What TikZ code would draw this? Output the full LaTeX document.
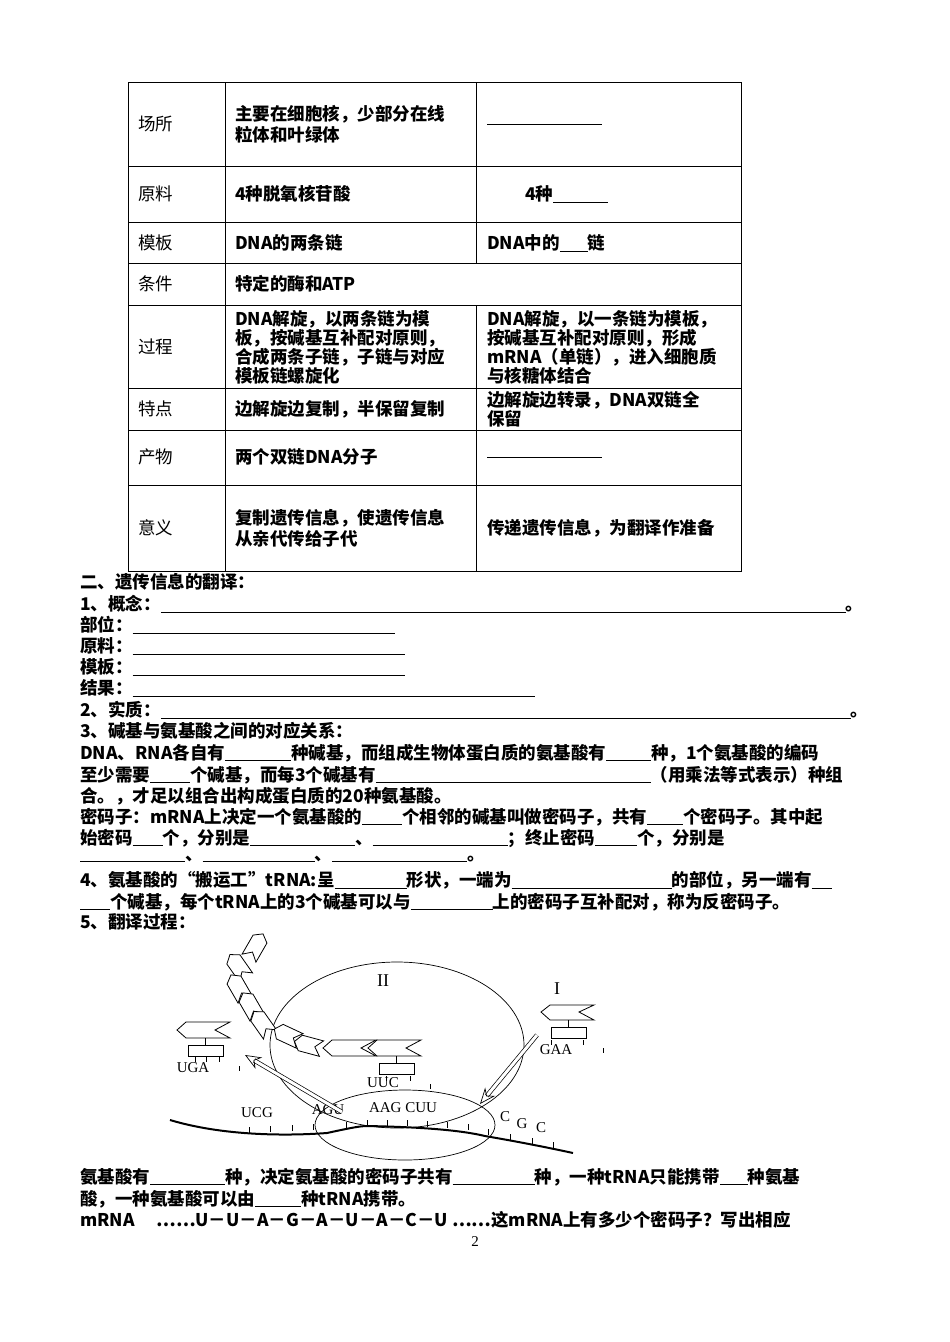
\documentclass[tikz,border=0pt]{standalone}
\usepackage{fontspec}
\setmainfont{Liberation Serif}
\newfontfamily\cjk{Noto Sans CJK SC}
\usetikzlibrary{arrows.meta}
\newcommand{\bl}[1]{\underline{\makebox[#1pt]{}}}
\begin{document}
\begin{tikzpicture}[x=1pt,y=-1pt,
 t/.style={anchor=west,inner sep=0pt,font=\cjk\fontsize{17.5}{21}\selectfont},
 tb/.style={t,font=\cjk\bfseries\fontsize{17.5}{21}\selectfont,align=left},
 tc/.style={t,font=\cjk\bfseries\fontsize{17.5}{19}\selectfont,align=left},
 lab/.style={inner sep=0pt,font=\fontsize{15}{15}\selectfont},
 chev/.style={draw,line width=0.8pt,fill=white},
 arr/.style={double,double distance=3pt,line width=0.7pt,-{Stealth[open,length=16pt,width=13pt]}}]
\useasboundingbox (0,0) rectangle (950,1342);
% table
\draw[line width=0.6pt] (128,82) rectangle (741,571);
\foreach \y in {166,222,263,305,388,430,485} \draw[line width=0.6pt] (128,\y)--(741,\y);
\draw[line width=0.6pt] (225,82)--(225,571);
\draw[line width=0.6pt] (476,82)--(476,263) (476,305)--(476,571);
\node[t] (l1) at (138,124) {场所};
\node[t] (l2) at (138,194) {原料};
\node[t] (l3) at (138,243) {模板};
\node[t] (l4) at (138,284) {条件};
\node[t] (l5) at (138,347) {过程};
\node[t] (l6) at (138,409) {特点};
\node[t] (l7) at (138,457) {产物};
\node[t] (l8) at (138,528) {意义};
\node[tb] (a1) at (235,124) {主要在细胞核，少部分在线\\粒体和叶绿体};
\node[tb] (b1) at (487,124) {\bl{115}};
\node[tb] (a2) at (235,194) {4种脱氧核苷酸};
\node[tb] (b2) at (525,194) {4种\bl{55}};
\node[tb] (a3) at (235,243) {DNA的两条链};
\node[tb] (b3) at (487,243) {DNA中的\bl{28}链};
\node[tb] (a4) at (235,284) {特定的酶和ATP};
\node[tc] (a5) at (235,347) {DNA解旋，以两条链为模\\板，按碱基互补配对原则，\\合成两条子链，子链与对应\\模板链螺旋化};
\node[tc] (b5) at (487,347) {DNA解旋，以一条链为模板，\\按碱基互补配对原则，形成\\mRNA（单链），进入细胞质\\与核糖体结合};
\node[tb] (a6) at (235,409) {边解旋边复制，半保留复制};
\node[tc] (b6) at (487,409) {边解旋边转录，DNA双链全\\保留};
\node[tb] (a7) at (235,457) {两个双链DNA分子};
\node[tb] (b7) at (487,457) {\bl{115}};
\node[tb] (a8) at (235,528) {复制遗传信息，使遗传信息\\从亲代传给子代};
\node[tb] (b8) at (487,528) {传递遗传信息，为翻译作准备};
% text lines
\node[tb] (s0) at (80,582) {二、遗传信息的翻译：};
\node[tb] (s1) at (80,604) {1、概念：\bl{685}。};
\node[tb] (s2) at (80,625) {部位：\bl{262}};
\node[tb] (s3) at (80,646) {原料：\bl{272}};
\node[tb] (s4) at (80,667) {模板：\bl{272}};
\node[tb] (s5) at (80,688) {结果：\bl{402}};
\node[tb] (s6) at (80,710) {2、实质：\bl{690}。};
\node[tb] (s7) at (80,731) {3、碱基与氨基酸之间的对应关系：};
\node[tb] (s8) at (80,753) {DNA、RNA各自有\bl{66}种碱基，而组成生物体蛋白质的氨基酸有\bl{45}种，1个氨基酸的编码};
\node[tb] (s9) at (80,775) {至少需要\bl{40}个碱基，而每3个碱基有\bl{275}（用乘法等式表示）种组};
\node[tb] (s10) at (80,796) {合。，才足以组合出构成蛋白质的20种氨基酸。};
\node[tb] (s11) at (80,817) {密码子：mRNA上决定一个氨基酸的\bl{40}个相邻的碱基叫做密码子，共有\bl{36}个密码子。其中起};
\node[tb] (s12) at (80,838) {始密码\bl{30}个，分别是\bl{105}、\bl{135}；终止密码\bl{42}个，分别是};
\node[tb] (s13) at (80,859) {\bl{105}、\bl{112}、\bl{135}。};
\node[tb] (s14) at (80,880) {4、氨基酸的“搬运工”tRNA:呈\bl{72}形状，一端为\bl{160}的部位，另一端有\bl{20}};
\node[tb] (s15) at (80,902) {\bl{30}个碱基，每个tRNA上的3个碱基可以与\bl{82}上的密码子互补配对，称为反密码子。};
\node[tb] (s16) at (80,922) {5、翻译过程：};
\node[tb] (s17) at (80,1177) {氨基酸有\bl{75}种，决定氨基酸的密码子共有\bl{82}种，一种tRNA只能携带\bl{28}种氨基};
\node[tb] (s18) at (80,1199) {酸，一种氨基酸可以由\bl{46}种tRNA携带。};
\node[tb] (s19) at (80,1220) {mRNA\hspace{22pt}……U－U－A－G－A－U－A－C－U\hspace{4pt}……这mRNA上有多少个密码子？写出相应};
\node[lab] (pg) at (475,1242) {2};
% diagram: ribosome
\draw[line width=0.7pt] (397,1045) ellipse [x radius=127, y radius=83];
\draw[line width=0.7pt] (405,1125) ellipse [x radius=90, y radius=35];
% mRNA
\draw[line width=2pt] (170,1120) .. controls (230,1138) and (300,1135) .. (327,1133) .. controls (350,1128) and (360,1126) .. (367,1126) .. controls (420,1127) and (460,1130) .. (485,1136) .. controls (520,1142) and (550,1148) .. (573,1153);
\foreach \x/\y in {249/1133,270/1132,292/1131,313/1130,346/1128,367/1126,387/1126,407/1126,427/1127,447/1128,468/1130,488/1135,510/1140,532/1144,553/1148} \draw[line width=0.6pt] (\x,\y)--(\x,\y-6);
\node[lab] (ucg) at (257,1113) {UCG};
\node[lab] (agu) at (328,1110) {AGU};
\node[lab] (aag) at (403,1108) {AAG CUU};
\node[lab] (c1) at (505,1117) {C};
\node[lab] (g1) at (522,1124) {G};
\node[lab] (c2) at (541,1128) {C};
\node[lab,font=\fontsize{18}{18}\selectfont] (r2) at (383,981) {II};
\node[lab,font=\fontsize{18}{18}\selectfont] (r1) at (557,989) {I};
% tRNA left
\draw[chev] (177,1030)--(186,1022)--(230,1022)--(215,1030)--(230,1038)--(186,1038)--cycle;
\draw[line width=0.6pt] (205,1038)--(205,1045);
\draw[line width=0.8pt] (188,1045) rectangle (223,1056);
\foreach \x in {195,206,219} \draw[line width=0.6pt] (\x,1056)--(\x,1062);
\draw[line width=0.6pt] (239,1066)--(239,1071);
\node[lab] (uga) at (193,1068) {UGA};
% tRNA right (I)
\draw[chev] (541,1012)--(550,1005)--(594,1005)--(579,1012)--(594,1020)--(550,1020)--cycle;
\draw[line width=0.6pt] (568,1020)--(568,1027);
\draw[line width=0.8pt] (551,1027) rectangle (586,1038);
\foreach \x in {551,583} \draw[line width=0.6pt] (\x,1040)--(\x,1045);
\draw[line width=0.6pt] (603,1048)--(603,1053);
\node[lab] (gaa) at (556,1050) {GAA};
% amino acid chain
\foreach \cx/\cy/\r in {256/946/-120,238/966/-55,238/987/-60,250/1005/-60,262/1023/-55,287/1035/-25,308/1045/-15}
 \draw[chev,rotate around={\r:(\cx,\cy)}] (\cx-14,\cy)--(\cx-8,\cy-8)--(\cx+14,\cy-8)--(\cx+7,\cy)--(\cx+14,\cy+8)--(\cx-8,\cy+8)--cycle;
% middle tRNA
\draw[chev] (323,1048)--(332,1040)--(376,1040)--(361,1048)--(376,1056)--(332,1056)--cycle;
\draw[chev] (368,1048)--(377,1040)--(421,1040)--(406,1048)--(421,1056)--(377,1056)--cycle;
\draw[line width=0.6pt] (396,1056)--(396,1063);
\draw[line width=0.8pt] (379,1063) rectangle (414,1074);
\foreach \x in {386,410} \draw[line width=0.6pt] (\x,1076)--(\x,1081);
\draw[line width=0.6pt] (430,1084)--(430,1089);
\node[lab] (uuc) at (383,1083) {UUC};
% arrows
\coordinate (p1) at (342,1112);
\coordinate (p2) at (245,1055);
\coordinate (p3) at (537,1035);
\coordinate (p4) at (480,1104);
\draw[arr] (p1)--(p2);
\draw[arr] (p3)--(p4);
\end{tikzpicture}
\end{document}
